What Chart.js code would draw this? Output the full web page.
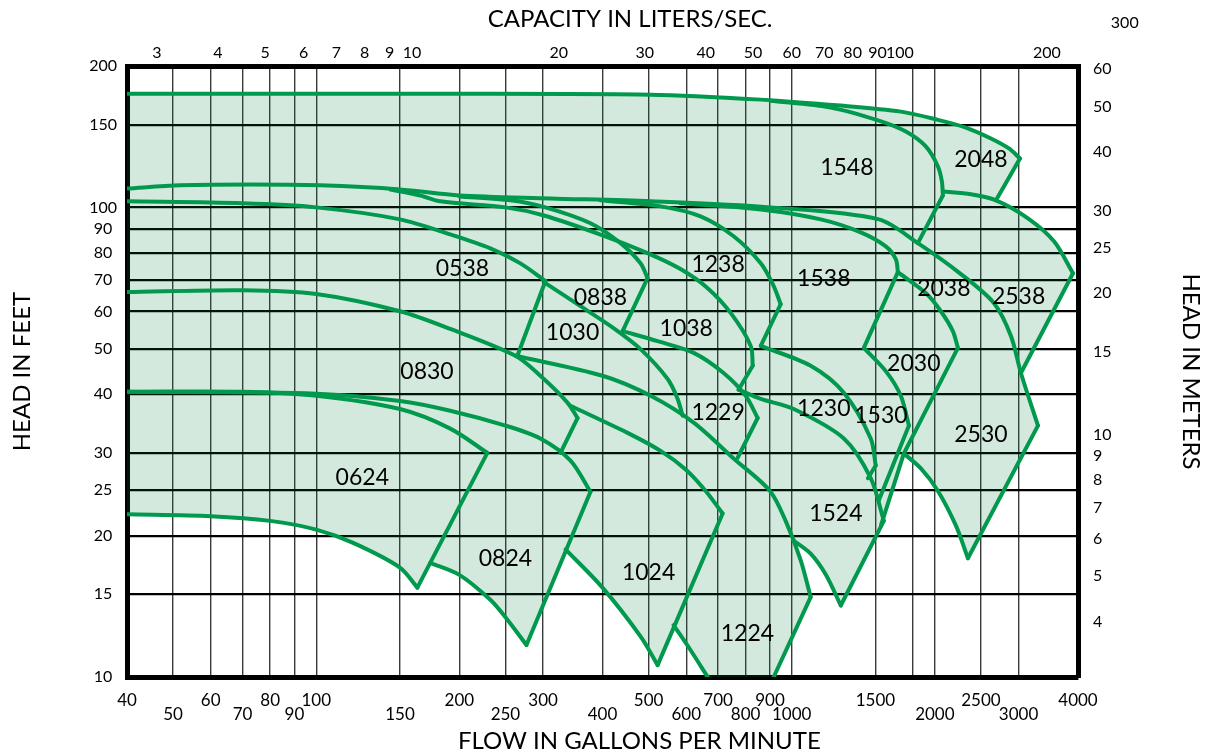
<!DOCTYPE html>
<html>
<head>
<meta charset="utf-8">
<script src="https://cdn.jsdelivr.net/npm/chart.js@4.4.1/dist/chart.umd.min.js"></script>
<style>
  html, body { margin: 0; padding: 0; background: #fff; }
</style>
</head>
<body>
<canvas id="pumpChart" width="1211" height="756"></canvas>
<script>
// axis ticks
const flowTicks = [40, 50, 60, 70, 80, 90, 100, 150, 200, 250, 300, 400, 500, 600, 700, 800, 900, 1000, 1500, 1800, 2000, 2500, 3000, 4000];
const flowLowRow = [50, 70, 90, 150, 250, 400, 600, 800, 1000, 2000, 3000];
const litersTicks = [3, 4, 5, 6, 7, 8, 9, 10, 20, 30, 40, 50, 60, 70, 80, 90, 100, 200];
const feetTicks = [10, 15, 20, 25, 30, 40, 50, 60, 70, 80, 90, 100, 150, 200];
const meterTicks = [4, 5, 6, 7, 8, 9, 10, 15, 20, 25, 30, 40, 50, 60];

// head curves, [gpm, feet]
const top2048 = [[40,174.6],[191,174.6],[505,173.8],[861,169.6],[1268,164.7],[1696,159.9],[2020,153.8],[2324,147.9],[2624,140.2],[2863,133.5],[3020,127.1]];
const end1548 = [[900,168.7],[1208,163.1],[1525,153.0],[1738,145.0],[1914,134.8],[2030,122.2],[2069,113.6],[2079,106.0]];
const top2538 = [[2079,108.1],[2381,106.6],[2689,103.5],[3139,94.8],[3561,84.7],[3904,72.4]];
const max38 = [[40,109.7],[51.7,111.4],[72.6,111.9],[101.9,111.4],[150,109.2],[200,106.0],[311,104.5],[505,103.0],[900,100.0],[1525,94.3],[1842,83.9],[2269,72.1],[2663,62.5],[2891,53.2],[3034,44.4],[3295,34.3]];
const max0538 = [[40,103.0],[70,102.0],[100,100.0],[150,94.3],[191.4,87.6],[232.4,81.8],[268.8,76.0],[303.4,69.7]];
const end1038 = [[143.1,109.2],[165.6,106.0],[182.4,103.0],[250,100.0],[300,96.2],[400,87.2],[497.5,79.9],[583.6,73.9],[665.6,67.3],[744,59.6],[820,50.7],[828,46.0]];
const max0838 = [[200,105.5],[256.1,103.5],[303.4,100.0],[377.4,92.5],[436.5,83.9],[480.9,76.0],[497.5,70.7]];
const max1238 = [[396,103.5],[530,100.5],[643,95.7],[754.8,86.8],[860.8,76.0],[916.4,68.0],[948,62.2]];
const max1538 = [[583.6,102.0],[860.8,99.0],[1151,94.3],[1397,88.5],[1577,82.6],[1656,77.5],[1672,72.8]];
const end2038 = [[1672,72.8],[1914,65.7],[2059,60.1],[2182,54.5],[2236,50.2]];
const end1530 = [[1418,50.2],[1577,44.8],[1696,39.7],[1764,34.3]];
const min2530 = [[1721,29.9],[1869,27.8],[2030,24.9],[2215,21.0],[2347,17.9]];
const min0838 = [[303.4,69.0],[359.6,61.6],[422,55.3],[480.9,49.9],[548.4,43.1],[575.6,39.1],[589.6,36.0]];
const min1038 = [[440.9,54.5],[522.4,51.9],[622,49.0],[718.9,44.4],[800,39.7],[848,35.6]];
const max1230 = [[773,40.9],[860.8,39.1],[1010,37.2],[1287,32.2],[1466,26.5],[1562,21.5]];
const end1230 = [[860.8,50.7],[1096,46.0],[1287,40.3],[1466,32.2],[1502,28.2]];
const max0830 = [[40,66.0],[70,66.6],[100,65.4],[150,60.1],[191.4,55.1],[262.4,48.3],[296,43.8],[337.6,38.4],[354.4,35.6]];
const max1224 = [[262.4,48.3],[400,43.8],[505,39.7],[622,34.8],[754.8,29.2],[900,24.9],[971,21.5],[1045,17.7],[1096,14.8]];
const max0624 = [[40,40.5],[70,40.5],[100,39.7],[150,37.2],[191.4,33.8],[229,30.0]];
const min0624 = [[40,22.2],[60,22.0],[80,21.5],[100,20.6],[119.6,19.3],[150,17.1],[163.2,15.5]];
const max0824 = [[40,40.5],[100,40.1],[150,38.7],[191.4,36.9],[250,34.3],[296,32.2],[342.6,28.9],[377.4,24.8]];
const min0824 = [[173.8,17.5],[200,16.5],[232.4,14.6],[250,13.4],[276.8,11.7]];
const max1024 = [[342.6,37.8],[451.6,33.1],[530,30.3],[600,27.6],[659.3,24.9],[715.6,22.3]];
const min1024 = [[334.4,18.7],[400,15.5],[480.9,12.2],[522.4,10.6]];
const min1224 = [[564.4,12.9],[612.9,11.4],[665.6,10]];
const min1524 = [[1010,19.5],[1096,18.3],[1180,16.5],[1268,14.2]];

// straight end-of-curve lines, [gpm, feet]
const edge2048 = [[3020,127.1],[2689,103.5]];
const edge1548 = [[2079,106.0],[1842,83.9]];
const edge2538 = [[3904,72.4],[3034,44.4]];
const edge2530 = [[3295,34.3],[2347,17.9]];
const edge0538 = [[303.4,69.7],[264.9,48.3]];
const edge0838 = [[497.5,70.7],[440.9,54.5]];
const edge1238 = [[948,62.2],[860.8,50.7]];
const edge1538 = [[1672,72.8],[1418,50.2]];
const edge1038 = [[828,46.0],[773,40.9]];
const edge2030 = [[2236,50.2],[1721,29.9],[1540,21.0]];
const edge1530 = [[1764,34.3],[1525,23.8]];
const edge1229 = [[848,35.6],[769.7,29.3]];
const edge1230 = [[1502,28.2],[1446,26.5]];
const edge0830 = [[354.4,35.6],[326.4,30.0]];
const edge0624 = [[229,30.0],[163.2,15.5]];
const edge0824 = [[377.4,24.8],[276.8,11.7]];
const edge1024 = [[715.6,22.3],[522.4,10.6]];
const edge1224 = [[1096,14.8],[916.4,10]];
const edge1524 = [[1268,14.2],[1562,21.5]];

// outline of the shaded coverage
const coverageOutline = [[40,174.6],[191,174.6],[505,173.8],[861,169.6],[1268,164.7],[1696,159.9],[2020,153.8],[2324,147.9],[2624,140.2],[2863,133.5],[3020,127.1],[2689,103.5],[3139,94.8],[3561,84.7],[3904,72.4],[3034,44.4],[3295,34.3],[2347,17.9],[2215,21.0],[2030,24.9],[1869,27.8],[1721,29.9],[1562,21.5],[1268,14.2],[1180,16.5],[1096,18.3],[1010,19.5],[1045,17.7],[1096,14.8],[916.4,10],[665.6,10],[612.9,11.4],[564.4,12.9],[522.4,10.6],[480.9,12.2],[400,15.5],[334.4,18.7],[276.8,11.7],[250,13.4],[232.4,14.6],[200,16.5],[173.8,17.5],[163.2,15.5],[150,17.1],[119.6,19.3],[100,20.6],[80,21.5],[60,22.0],[40,22.2]];

// model labels
const modelNames = ['1548','2048','0538','1238','1538','0838','2038','2538','1030','1038','0830','2030','1229','1230','1530','2530','0624','1524','0824','1024','1224'];
const modelFlow = [1306, 2500, 203, 700, 1168, 396, 2089, 3000, 346, 600, 171, 1806, 700, 1168, 1540, 2500, 125, 1238, 250, 500, 807];
const modelHead = [121.6, 126.5, 73.9, 75.7, 70.7, 64.4, 67, 64.7, 54, 55.3, 44.8, 46.4, 36.5, 37.2, 36, 32.9, 26.6, 22.3, 17.9, 16.7, 12.4];

const GREEN = '#00994d';
const toPts = arr => arr.map(p => ({ x: p[0], y: p[1] }));

const smoothCurves = [top2048, end1548, top2538, max38, max0538, end1038, max0838, max1238, max1538, end2038,
  end1530, min2530, min0838, min1038, max1230, end1230, max0830, max1224, max0624, min0624, max0824, min0824,
  max1024, min1024, min1224, min1524];
const straightEdges = [edge2048, edge1548, edge2538, edge2530, edge0538, edge0838, edge1238, edge1538, edge1038,
  edge2030, edge1530, edge1229, edge1230, edge0830, edge0624, edge0824, edge1024, edge1224, edge1524];

const lineSet = (arr, tension) => ({
  data: toPts(arr),
  borderColor: GREEN,
  borderWidth: 4,
  borderCapStyle: 'round',
  borderJoinStyle: 'miter',
  pointRadius: 0,
  fill: false,
  tension: tension,
  order: 0
});

const datasets = smoothCurves.map(c => lineSet(c, 0.3)).concat(straightEdges.map(e => lineSet(e, 0)));
datasets.push({
  data: toPts(coverageOutline),
  borderWidth: 0,
  borderColor: 'rgba(0,0,0,0)',
  backgroundColor: 'rgba(0,126,56,0.17)',
  pointRadius: 0,
  fill: 'shape',
  tension: 0,
  order: 10
});

const modelLabels = {
  id: 'modelLabels',
  afterDatasetsDraw(chart) {
    const { ctx, scales } = chart;
    ctx.save();
    ctx.fillStyle = '#000';
    ctx.textAlign = 'center';
    ctx.textBaseline = 'middle';
    ctx.font = '23px Lato';
    modelNames.forEach((name, i) => {
      ctx.fillText(name, scales.x.getPixelForValue(modelFlow[i]), scales.y.getPixelForValue(modelHead[i]));
    });
    // the 300 l/s mark sits past the frame, above the axis
    ctx.font = '16px Lato';
    ctx.fillText('300', scales.x2.getPixelForValue(300) - 8, 23);
    ctx.restore();
  }
};

Chart.defaults.font.family = 'Lato';
Chart.defaults.color = '#000';

new Chart(document.getElementById('pumpChart'), {
  type: 'line',
  data: { datasets },
  options: {
    responsive: false,
    animation: false,
    events: [],
    layout: { padding: 0 },
    plugins: { legend: { display: false }, tooltip: { enabled: false } },
    scales: {
      x: {
        type: 'logarithmic', position: 'bottom', min: 40, max: 4000,
        afterBuildTicks: s => { s.ticks = flowTicks.map(v => ({ value: v })); },
        afterFit: s => { s.height = 79; },
        ticks: {
          autoSkip: false, maxRotation: 0, minRotation: 0, padding: 16,
          font: { size: 17, lineHeight: 0.85 },
          callback: v => v === 1800 ? '' : (flowLowRow.includes(v) ? ['', String(v)] : String(v))
        },
        grid: { color: '#3a3a3a', lineWidth: 1.4, drawTicks: false },
        border: { display: true, color: '#000', width: 5 },
        title: {
          display: true, text: '            FLOW IN GALLONS PER MINUTE',
          font: { size: 24 }, padding: { top: 0, bottom: 0 }
        }
      },
      x2: {
        type: 'logarithmic', position: 'top', min: 2.606, max: 231.7,
        afterBuildTicks: s => { s.ticks = litersTicks.map(v => ({ value: v })); },
        afterFit: s => { s.height = 66; },
        ticks: { autoSkip: false, maxRotation: 0, minRotation: 0, padding: 4, font: { size: 16 }, callback: v => String(v) },
        grid: { display: false, drawTicks: false },
        border: { display: true, color: '#000', width: 5 },
        title: {
          display: true, text: '         CAPACITY IN LITERS/SEC.',
          font: { size: 24 }, padding: { top: 5, bottom: 0 }
        }
      },
      y: {
        type: 'logarithmic', position: 'left', min: 10, max: 200,
        afterBuildTicks: s => { s.ticks = feetTicks.map(v => ({ value: v })); },
        afterFit: s => { s.width = 127; },
        ticks: { autoSkip: false, crossAlign: 'center', padding: 10, font: { size: 16 }, callback: v => String(v) },
        grid: { color: '#000', lineWidth: 2.2, drawTicks: false },
        border: { display: true, color: '#000', width: 5 },
        title: { display: true, text: 'HEAD IN FEET', font: { size: 24 }, padding: { top: 8, bottom: 0 } }
      },
      y2: {
        type: 'logarithmic', position: 'right', min: 3.048, max: 60.96,
        afterBuildTicks: s => { s.ticks = meterTicks.map(v => ({ value: v })); },
        afterFit: s => { s.width = 133; },
        ticks: { autoSkip: false, padding: 15, font: { size: 16 }, callback: v => String(v) },
        grid: { display: false, drawTicks: false },
        border: { display: true, color: '#000', width: 5 },
        title: { display: true, text: 'HEAD IN METERS', font: { size: 24 }, padding: { top: 6, bottom: 0 } }
      }
    }
  },
  plugins: [modelLabels]
});
</script>
</body>
</html>
